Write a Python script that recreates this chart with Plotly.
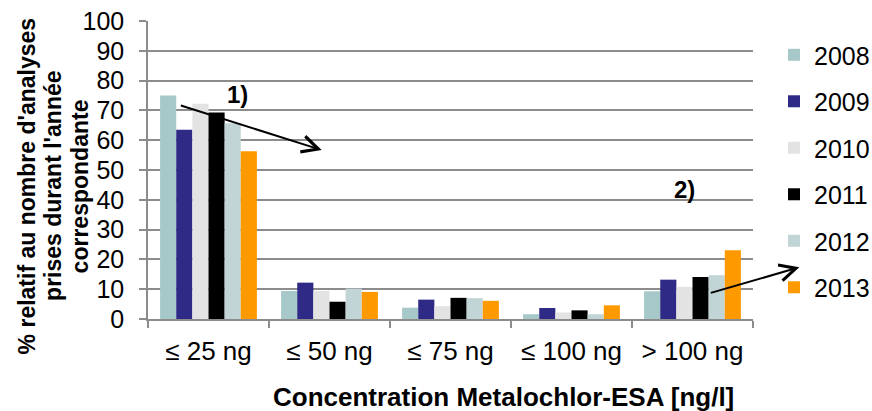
import plotly.graph_objects as go

categories = ["≤ 25 ng", "≤ 50 ng", "≤ 75 ng", "≤ 100 ng", "> 100 ng"]
years = ["2008", "2009", "2010", "2011", "2012", "2013"]
v2008 = [75.0, 9.4, 3.8, 1.6, 9.3]
v2009 = [63.5, 12.2, 6.5, 3.7, 13.2]
v2010 = [72.2, 9.4, 4.3, 2.2, 10.8]
v2011 = [69.3, 5.8, 7.1, 2.9, 14.1]
v2012 = [65.7, 10.2, 7.0, 1.6, 14.7]
v2013 = [56.3, 9.1, 6.1, 4.6, 23.1]
series = [v2008, v2009, v2010, v2011, v2012, v2013]
colors = ["#A6C8C9", "#2E2A86", "#E3E3E3", "#000000", "#C1D4D6", "#FF9900"]

FONT = "Liberation Sans, Arial, sans-serif"
GRID = "#8C8C8C"

fig = go.Figure()
for name, vals, col in zip(years, series, colors):
    fig.add_trace(go.Bar(
        x=categories, y=vals, name=name, legendgroup=name,
        marker=dict(color=col, line=dict(width=0)),
    ))

fig.update_layout(
    width=872, height=411,
    margin=dict(l=148, r=119, t=21, b=92, autoexpand=False),
    paper_bgcolor="white", plot_bgcolor="white",
    barmode="group", bargap=0.2, bargroupgap=0,
    font=dict(family=FONT, color="black", size=25),
    showlegend=True,
    legend=dict(
        x=1.0347, xanchor="left", y=0.963, yanchor="top",
        traceorder="grouped", tracegroupgap=11,
        font=dict(size=25, family=FONT),
        bgcolor="rgba(0,0,0,0)",
    ),
    xaxis=dict(
        type="category", range=[-0.5, 4.5], autorange=False,
        showgrid=False, zeroline=False,
        showline=True, linecolor=GRID, linewidth=1.5,
        ticks="outside", tickson="boundaries", ticklen=7, tickcolor=GRID, tickwidth=1.5,
        tickfont=dict(size=26, family=FONT), tickangle=0,
        ticklabelstandoff=8,
    ),
    yaxis=dict(
        range=[0, 100], autorange=False, dtick=10,
        showgrid=True, gridcolor=GRID, gridwidth=1.5,
        zeroline=False, showline=True, linecolor=GRID, linewidth=1.5,
        ticks="outside", ticklen=7, tickcolor=GRID, tickwidth=1.5,
        tickfont=dict(size=25, family=FONT),
        ticklabelstandoff=10,
    ),
)

# Axis titles
fig.add_annotation(
    text="<b>Concentration Metalochlor-ESA [ng/l]</b>",
    xref="paper", yref="paper", x=0.587, y=-0.262,
    xanchor="center", yanchor="middle", showarrow=False,
    font=dict(size=26, family=FONT, color="black"),
)
ytitle_lines = ["% relatif au nombre d'analyses", "prises durant l'année", "correspondante"]
for i, line in enumerate(ytitle_lines):
    fig.add_annotation(
        text="<b>" + line + "</b>",
        xref="paper", yref="paper", x=(27 + 26.5 * i - 148) / 605, y=0.445,
        xanchor="center", yanchor="middle", showarrow=False, textangle=-90,
        font=dict(size=23, family=FONT, color="black"),
    )

# Labels and arrows
fig.add_annotation(text="<b>1)</b>", x=0.24, y=75.5, xref="x", yref="y",
                   showarrow=False, font=dict(size=24, family=FONT, color="black"))
fig.add_annotation(text="<b>2)</b>", x=3.93, y=43.6, xref="x", yref="y",
                   showarrow=False, font=dict(size=24, family=FONT, color="black"))
fig.add_annotation(text="", x=0.9355, y=56.7, ax=-0.241, ay=71.8,
                   xref="x", yref="y", axref="x", ayref="y",
                   showarrow=True, arrowhead=5, arrowsize=1.6, arrowwidth=2,
                   arrowcolor="black", standoff=0, startstandoff=0)
fig.add_annotation(text="", x=4.883, y=17.35, ax=4.139, ay=8.62,
                   xref="x", yref="y", axref="x", ayref="y",
                   showarrow=True, arrowhead=5, arrowsize=1.6, arrowwidth=2,
                   arrowcolor="black", standoff=0, startstandoff=0)

fig.write_html(
    "out.html",
    config={"displayModeBar": False},
    post_script="document.body.style.margin='0';document.body.style.overflow='hidden';",
)
